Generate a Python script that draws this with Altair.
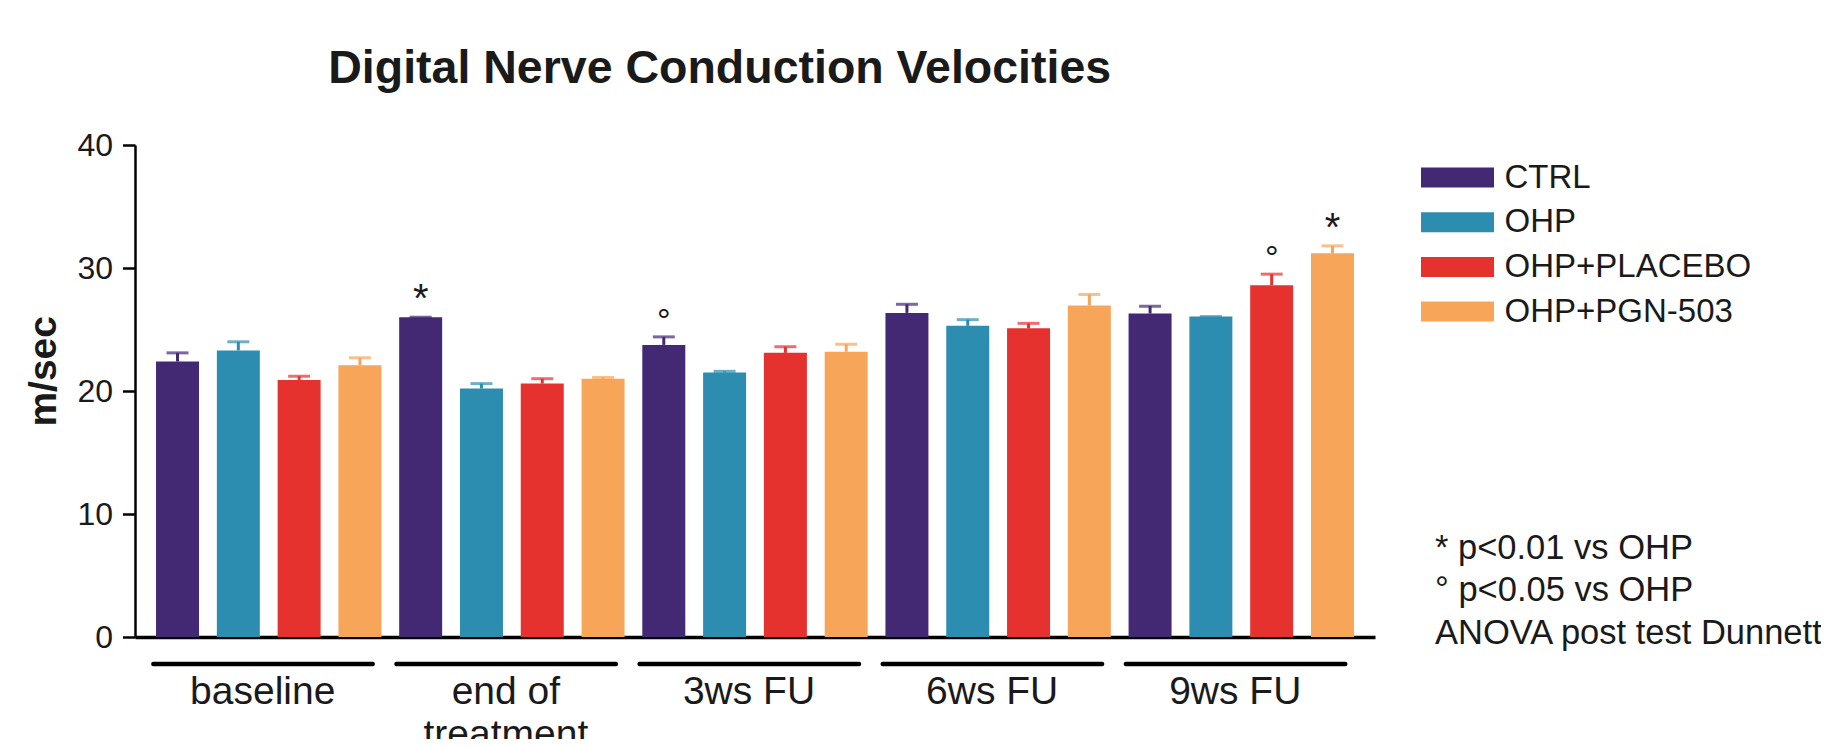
import altair as alt
import pandas as pd

groups = ["baseline", "end of treatment", "3ws FU", "6ws FU", "9ws FU"]
group_labels = ["baseline", "end of\ntreatment", "3ws FU", "6ws FU", "9ws FU"]
series = ["CTRL", "OHP", "OHP+PLACEBO", "OHP+PGN-503"]
colors = ["#432873", "#2D8DB1", "#E5322F", "#F7A559"]

ctrl_mean = [22.4, 26.0, 23.75, 26.35, 26.3]
ctrl_sem = [0.7, 0.0, 0.65, 0.7, 0.6]
ohp_mean = [23.3, 20.2, 21.5, 25.3, 26.05]
ohp_sem = [0.7, 0.4, 0.1, 0.5, 0.0]
plac_mean = [20.9, 20.6, 23.1, 25.1, 28.6]
plac_sem = [0.3, 0.4, 0.5, 0.4, 0.9]
pgn_mean = [22.1, 21.0, 23.2, 26.95, 31.2]
pgn_sem = [0.6, 0.1, 0.6, 0.9, 0.6]

ctrl_sig = ["", "*", "°", "", ""]
ohp_sig = ["", "", "", "", ""]
plac_sig = ["", "", "", "", "°"]
pgn_sig = ["", "", "", "", "*"]

footnote = ["* p<0.01 vs OHP", "° p<0.05 vs OHP", "ANOVA post test Dunnett"]
title_text = "Digital Nerve Conduction Velocities"
y_title = "m/sec"

means = [ctrl_mean, ohp_mean, plac_mean, pgn_mean]
sems = [ctrl_sem, ohp_sem, plac_sem, pgn_sem]
sigs = [ctrl_sig, ohp_sig, plac_sig, pgn_sig]

rows = []
for gi, g in enumerate(groups):
    for si, s in enumerate(series):
        m = means[si][gi]
        e = sems[si][gi]
        rows.append({"group": g, "series": s, "mean": m, "upper": m + e, "sig": sigs[si][gi]})
df = pd.DataFrame(rows)
df_g = pd.DataFrame({"group": groups, "label": group_labels})
df_f = pd.DataFrame({"t": ["\n".join(footnote)]})

FONT = "Liberation Sans"
TXT = "#1a1a1a"
W, H = 1240, 492

x_enc = alt.X(
    "group:N", sort=groups,
    scale=alt.Scale(domain=groups, paddingInner=0, paddingOuter=0.05),
    axis=alt.Axis(title=None, labels=False, ticks=False, domainColor="black",
                  domainWidth=3.5, grid=False),
)
xo_enc = alt.XOffset(
    "series:N", sort=series,
    scale=alt.Scale(domain=series, paddingInner=0.293, paddingOuter=0.146),
)
y_scale = alt.Scale(domain=[0, 40], nice=False)
y_axis = alt.Axis(
    values=[0, 10, 20, 30, 40], title=y_title, titleFont=FONT, titleFontSize=39,
    titleFontWeight="bold", titleColor=TXT, titleAngle=-90, titleX=-91.7, titleY=225.8,
    titleAlign="center", titleBaseline="middle",
    labelFont=FONT, labelFontSize=32, labelColor=TXT, labelPadding=10,
    tickSize=12.5, tickWidth=2.5, tickColor="black",
    domainColor="black", domainWidth=2.5, grid=False,
)
color_scale = alt.Scale(domain=series, range=colors)

base = alt.Chart(df)

bars = base.mark_bar().encode(
    x=x_enc, xOffset=xo_enc,
    y=alt.Y("mean:Q", scale=y_scale, axis=y_axis),
    color=alt.Color(
        "series:N", scale=color_scale, sort=series,
        legend=alt.Legend(
            title=None, orient="none", legendX=1306, legendY=16,
            symbolType="M-3.65,-1L3.65,-1L3.65,1L-3.65,1Z", symbolSize=400,
            symbolStrokeWidth=0, symbolOpacity=1,
            labelFont=FONT, labelFontSize=33, labelColor=TXT, labelOffset=30.5,
            labelLimit=500, rowPadding=10.7, padding=0,
        ),
    ),
)

stems = base.mark_rule(strokeWidth=3).encode(
    x=x_enc, xOffset=xo_enc,
    y=alt.Y("mean:Q", scale=y_scale), y2="upper:Q",
    color=alt.Color("series:N", scale=color_scale, legend=None),
)

caps = base.mark_tick(thickness=3, size=22, orient="horizontal").encode(
    x=x_enc, xOffset=xo_enc,
    y=alt.Y("upper:Q", scale=y_scale),
    color=alt.Color("series:N", scale=color_scale, legend=None),
)

stars = base.transform_filter("datum.sig == '*'").mark_text(
    font=FONT, fontSize=40, baseline="alphabetic", dy=-5, color=TXT
).encode(x=x_enc, xOffset=xo_enc, y=alt.Y("upper:Q", scale=y_scale), text="sig:N")

degs = base.transform_filter("datum.sig == '°'").mark_text(
    font=FONT, fontSize=34, baseline="alphabetic", dy=-5, color=TXT
).encode(x=x_enc, xOffset=xo_enc, y=alt.Y("upper:Q", scale=y_scale), text="sig:N")

glines = alt.Chart(df_g).mark_bar(
    color="black", cornerRadius=2, width=alt.RelativeBandSize(0.92), xOffset=-5.7
).encode(x=x_enc, y=alt.value(516.8), y2=alt.value(521.3))

glabels = alt.Chart(df_g).mark_text(
    font=FONT, fontSize=39, baseline="alphabetic", lineBreak="\n", lineHeight=43,
    xOffset=-6, color=TXT
).encode(x=x_enc, y=alt.value(558.7), text="label:N")

foot = alt.Chart(df_f).mark_text(
    font=FONT, fontSize=34.5, align="left", baseline="alphabetic", lineBreak="\n",
    lineHeight=42.6, color=TXT
).encode(x=alt.value(1300), y=alt.value(413.7), text="t:N")

chart = alt.layer(bars, stems, caps, stars, degs, glines, glabels, foot).properties(
    width=W, height=H,
    padding={"left": 127, "top": 137, "right": 446, "bottom": 102},
    autosize=alt.AutoSizeParams(type="none"),
    title=alt.TitleParams(
        title_text, font=FONT, fontSize=46.5, fontWeight="bold", color=TXT,
        anchor="middle", dx=-35.3, offset=0, dy=0.3, baseline="alphabetic",
    ),
).configure_view(stroke=None)

chart.save("out.html", embed_options={"renderer": "svg", "actions": False})
